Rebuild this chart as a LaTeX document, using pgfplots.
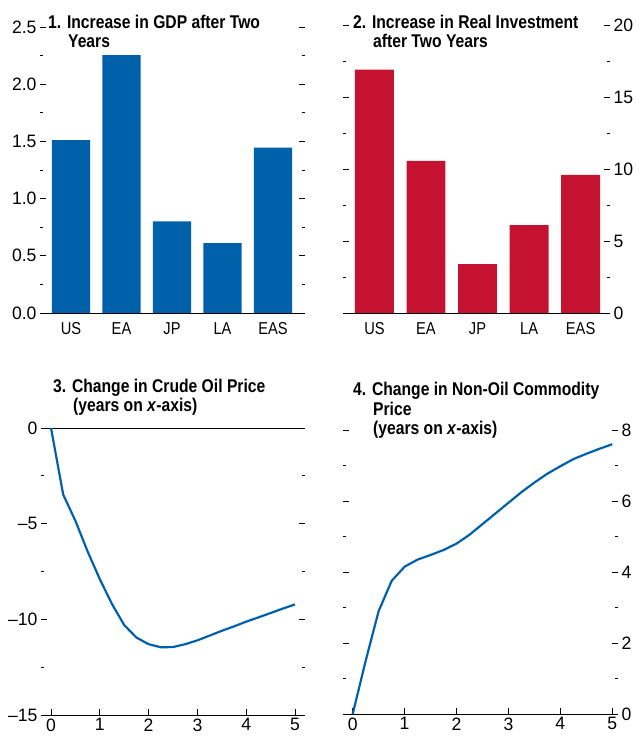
\documentclass[border=0pt]{standalone}
\usepackage{pgfplots}
\pgfplotsset{compat=1.18}
\usepackage{fontspec}
\setmainfont{Liberation Sans}[FakeStretch=0.85]
\newfontfamily\numfont{Liberation Sans}[FakeStretch=0.98]
\definecolor{imfblue}{RGB}{0,97,170}
\definecolor{imfred}{RGB}{196,18,48}

\pgfplotsset{
  panel/.style={
    scale only axis,
    separate axis lines,
    y axis line style={draw=none},
    x axis line style={black, line width=0.9pt},
    axis x line*=bottom,
    tick style={black, line width=0.8pt},
    major tick length=6pt,
    minor tick length=3.5pt,
    minor y tick num=1,
    ytick pos=both,
    yticklabel style={font=\numfont\fontsize{18}{20}\selectfont},
    xticklabel style={font=\numfont\fontsize{18}{20}\selectfont},
    /pgf/number format/assume math mode=true,
    clip=false,
  },
  barpanel/.style={
    panel, ybar, bar width=0.755, ymin=0,
    xtick={0,1,2,3,4}, xticklabels={US,EA,JP,LA,EAS},
    major x tick style={draw=none},
    xticklabel style={font=\fontsize{17.3}{20}\selectfont},
  },
}
\tikzset{
  ttl/.style={anchor=base west, align=left, inner sep=0pt,
    font=\bfseries\fontsize{18.5}{20}\selectfont},
}

\begin{document}
\begin{tikzpicture}
\useasboundingbox (0,0) rectangle (639bp,736bp);

% 1. GDP
\begin{axis}[barpanel, at={(40bp,423bp)}, anchor=south west,
  width=265bp, height=286bp, xmin=-0.615, xmax=4.635, ymax=2.5,
  ytick={0,0.5,...,2.5}, yticklabels={0.0,0.5,1.0,1.5,2.0,2.5},
  yticklabel pos=left, ytick pos=both]
\addplot[fill=imfblue, draw=none] coordinates {(0,1.51) (1,2.255) (2,0.80) (3,0.61) (4,1.445)};
\end{axis}

% 2. Real investment
\begin{axis}[barpanel, at={(343bp,423bp)}, anchor=south west,
  width=267bp, height=288bp, xmin=-0.61, xmax=4.57, ymax=20,
  ytick={0,5,...,20}, yticklabels={0,5,10,15,20},
  yticklabel pos=right, ytick pos=both]
\addplot[fill=imfred, draw=none] coordinates {(0,16.9) (1,10.56) (2,3.4) (3,6.1) (4,9.6)};
\end{axis}

% 3. Crude oil price
\begin{axis}[panel, at={(41bp,21bp)}, anchor=south west,
  width=264bp, height=287bp, xmin=-0.205, xmax=5.205, ymin=-15, ymax=0,
  axis x line*=box, xtick pos=left,
  xtick={0,1,...,5},
  ytick={-15,-10,-5,0}, yticklabels={\textendash15,\textendash10,\textendash5,0},
  yticklabel pos=left, ytick pos=both]
\addplot[imfblue, line width=2.2pt, mark=none] coordinates {
  (0,0) (0.25,-3.48) (0.5,-4.85) (0.75,-6.45) (1,-7.9) (1.25,-9.2)
  (1.5,-10.3) (1.75,-10.95) (2,-11.3) (2.25,-11.46) (2.5,-11.45)
  (2.75,-11.3) (3,-11.1) (3.25,-10.85) (3.5,-10.6) (3.75,-10.37)
  (4,-10.12) (4.25,-9.9) (4.5,-9.67) (4.75,-9.44) (5,-9.22)};
\end{axis}

% 4. Non-oil commodity price
\begin{axis}[panel, at={(343bp,22bp)}, anchor=south west,
  width=275bp, height=284bp, xmin=-0.187, xmax=5.11, ymin=0, ymax=8,
  xtick={0,1,...,5},
  ytick={0,2,...,8}, yticklabels={0,2,4,6,8},
  yticklabel pos=right, ytick pos=both]
\addplot[imfblue, line width=2.2pt, mark=none] coordinates {
  (0,0) (0.25,1.5) (0.5,2.9) (0.75,3.75) (1,4.15) (1.25,4.35)
  (1.5,4.48) (1.75,4.62) (2,4.8) (2.25,5.05) (2.5,5.35) (2.75,5.65)
  (3,5.95) (3.25,6.25) (3.5,6.52) (3.75,6.77) (4,6.98) (4.25,7.18)
  (4.5,7.33) (4.75,7.47) (5,7.6)};
\end{axis}

% titles: anchor base is the last line's baseline
\node[ttl] at (48bp,688bp) {1. Increase in GDP after Two\\\hspace*{20bp}Years};
\node[ttl] at (353bp,688bp) {2. Increase in Real Investment\\\hspace*{20bp}after Two Years};
\node[ttl] at (53bp,324bp) {3. Change in Crude Oil Price\\\hspace*{20bp}(years on \textit{x}-axis)};
\node[ttl] at (353bp,301bp) {4. Change in Non-Oil Commodity\\\hspace*{20bp}Price\\\hspace*{20bp}(years on \textit{x}-axis)};
\end{tikzpicture}
\end{document}
